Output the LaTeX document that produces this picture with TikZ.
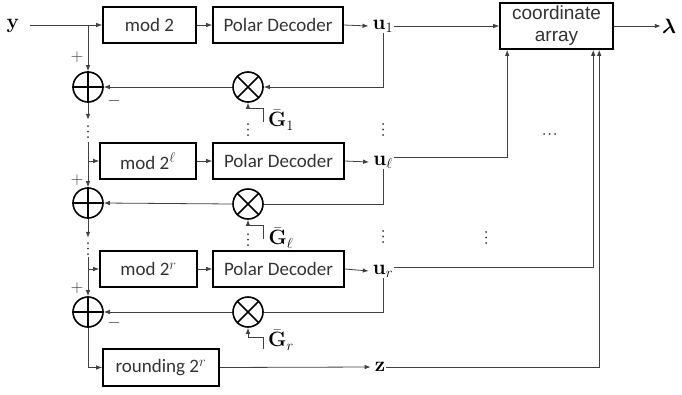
\documentclass[tikz,border=0pt]{standalone}
\usepackage{amsmath,bm}
\usepackage[no-math]{fontspec}
\setmainfont{Carlito}
\newfontfamily\arialf{Liberation Sans}
\usetikzlibrary{arrows.meta,calc}
\begin{document}
\begin{tikzpicture}[x=1pt,y=-1pt,
  every node/.style={font=\fontsize{19}{23}\selectfont},
  blk/.style={draw=black,line width=1.6pt,minimum height=36pt,inner sep=0pt,text=black!80},
  ln/.style={draw=black!75,line width=0.8pt},
  arr/.style={ln,-{Latex[length=6pt,width=4.5pt]}},
  opc/.style={circle,draw=black,line width=1.6pt,minimum size=30pt,inner sep=0pt},
  crs/.style={draw=black,line width=1.6pt},
  lbl/.style={inner sep=1pt,font=\fontsize{21}{25}\selectfont},
  sgn/.style={inner sep=0pt,font=\fontsize{17}{20}\selectfont,text=black!80},
  tdots/.style={draw=black!80,line width=2pt,line cap=round,dash pattern=on 0pt off 5.5pt}]
\useasboundingbox (0,0) rectangle (682,394);

% ---------- row 1 ----------
\node[lbl] (y) at (13,26) {$\mathbf{y}$};
\coordinate (ystart) at (30,25);
\coordinate (j1) at (88,25);
\node[blk,minimum width=93pt] (mod1) at (149.5,25) {mod 2};
\node[blk,minimum width=130pt] (pd1) at (278,25) {Polar Decoder};
\node[lbl] (u1) at (383,26) {$\mathbf{u}_1$};
\node[blk,font=\arialf\fontsize{19}{23}\selectfont,minimum width=113pt,minimum height=46pt,align=center] (ca) at (556.5,26) {coordinate\\[-1pt]array};
\node[lbl] (lam) at (669,26) {$\bm{\lambda}$};
\node[opc] (xor1) at (88,87) {};
\node[opc] (mul1) at (248,87) {};
\node[sgn] (p1) at (77,57) {$+$};
\node[sgn] (m1) at (114,101) {$-$};
\node[lbl] (g1) at (281,120) {$\bar{\mathbf{G}}_1$};
\coordinate (g1s) at (263,122);

% ---------- row 2 ----------
\coordinate (j2) at (88,161);
\coordinate (d2e) at (88,142);
\node[blk,minimum width=96pt] (mod2) at (148,161) {mod 2$^{\ell}$};
\node[blk,minimum width=131pt] (pd2) at (278.5,161) {Polar Decoder};
\node[lbl] (u2) at (383,162) {$\mathbf{u}_{\ell}$};
\node[opc] (xor2) at (88,203) {};
\node[opc] (mul2) at (248,204) {};
\node[sgn] (p2) at (77,180) {$+$};
\node[lbl] (g2) at (281,238) {$\bar{\mathbf{G}}_{\ell}$};
\coordinate (g2s) at (263,239);

% ---------- row 3 ----------
\coordinate (j3) at (88,269);
\coordinate (d3e) at (88,257);
\node[blk,minimum width=97pt] (mod3) at (148.5,269) {mod 2$^{r}$};
\node[blk,minimum width=131pt] (pd3) at (278.5,269) {Polar Decoder};
\node[lbl] (u3) at (383,271) {$\mathbf{u}_{r}$};
\node[opc] (xor3) at (88,312) {};
\node[opc] (mul3) at (248,312) {};
\node[sgn] (p3) at (77,288) {$+$};
\node[sgn] (m3) at (114,323) {$-$};
\node[lbl] (g3) at (281,340) {$\bar{\mathbf{G}}_{r}$};
\coordinate (g3s) at (263,349);

% ---------- rounding ----------
\node[blk,minimum width=116pt,minimum height=37pt] (rnd) at (161,367.5) {rounding 2$^{r}$};
\node[lbl] (z) at (380,367) {$\mathbf{z}$};

% inputs of the coordinate array
\coordinate (cin1) at ($(ca.south west)+(8,0)$);
\coordinate (cin2) at ($(ca.south west)+(94,0)$);
\coordinate (cin3) at ($(ca.south west)+(100,0)$);

% operator symbols
\foreach \n in {xor1,xor2,xor3}{
  \draw[crs] (\n.north) -- (\n.south) (\n.west) -- (\n.east);}
\foreach \n in {mul1,mul2,mul3}{
  \draw[crs] (\n.north west) -- (\n.south east) (\n.north east) -- (\n.south west);}

% ---------- connectors row 1 ----------
\draw[arr] (ystart) -- (mod1.west);
\draw[arr] (j1) -- (xor1.north);
\draw[arr] (mod1) -- (pd1);
\draw[arr] (pd1.east) -- ([xshift=-3pt]u1.west);
\draw[arr] (u1.east) -- (u1.east -| ca.west);
\draw[arr] (ca.east) -- (ca.east -| lam.west);
\draw[arr] (u1.south) |- (mul1.east);
\draw[arr] (mul1.west) -- (xor1.east);
\draw[arr] (g1s) |- ($(mul1.south)+(0,6)$) -- (mul1.south);
\draw[arr] (xor1.south) -- ++(0,17);
\draw[tdots] (88,126) -- (88,141);
\draw[tdots] (248,124) -- (248,137);
\draw[tdots] (383,124) -- (383,137);

% ---------- connectors row 2 ----------
\draw[ln] (d2e) -- (j2);
\draw[arr] (j2) -- (xor2.north);
\draw[arr] (j2) -- (mod2.west);
\draw[arr] (mod2) -- (pd2);
\draw[arr] (pd2.east) -- ([xshift=-3pt]u2.west);
\draw[arr] ([yshift=5pt]u2.east) -| (cin1);
\draw[ln] (u2.south) |- (mul2.east);
\draw[arr] (mul2.west) -- (xor2.east);
\draw[arr] (g2s) |- ($(mul2.south)+(0,6)$) -- (mul2.south);
\draw[arr] (xor2.south) -- ++(0,19);
\draw[tdots] (88,243) -- (88,255);
\draw[tdots] (248,234) -- (248,247);
\draw[tdots] (383,231) -- (383,244);
\draw[tdots] (544,134) -- (556,134);
\draw[tdots] (486,232) -- (486,244);

% ---------- connectors row 3 ----------
\draw[ln] (d3e) -- (j3);
\draw[arr] (j3) -- (xor3.north);
\draw[arr] (j3) -- (mod3.west);
\draw[arr] (mod3) -- (pd3);
\draw[arr] (pd3.east) -- ([xshift=-3pt]u3.west);
\draw[arr] ([yshift=4pt]u3.east) -| (cin2);
\draw[ln] (u3.south) |- (mul3.east);
\draw[arr] (mul3.west) -- (xor3.east);
\draw[arr] (g3s) |- ($(mul3.south)+(0,10)$) -- (mul3.south);
\draw[arr] (xor3.south) |- (rnd.west);
\draw[arr] (rnd.east) -- ([xshift=-3pt]z.west);
\draw[arr] (z.east) -| (cin3);
\end{tikzpicture}
\end{document}
